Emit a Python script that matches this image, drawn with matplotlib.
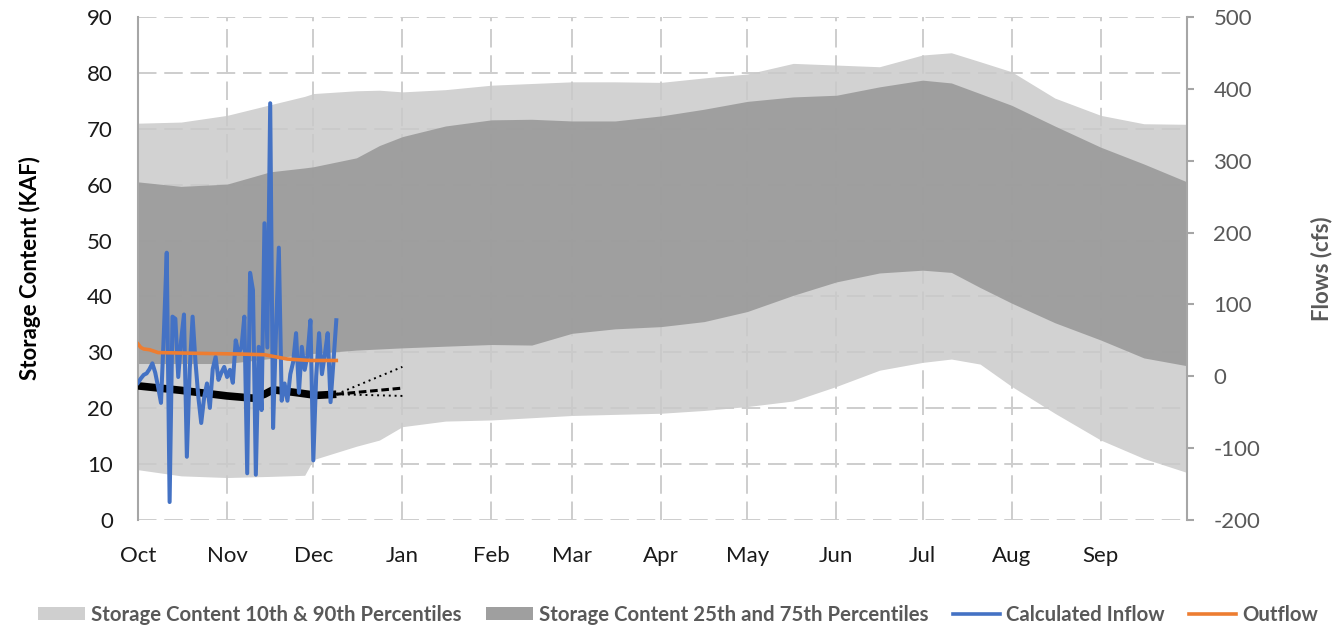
import matplotlib
matplotlib.use("Agg")
import matplotlib.pyplot as plt
import numpy as np
from matplotlib.lines import Line2D
from matplotlib.patches import Patch

plt.rcParams['font.family'] = ['Lato', 'DejaVu Sans']
plt.rcParams['axes.unicode_minus'] = False

# water-year day index, 0 = Oct 1
month_days = [0, 31, 61, 92, 123, 151, 182, 212, 243, 273, 304, 335]
month_labels = ['Oct', 'Nov', 'Dec', 'Jan', 'Feb', 'Mar', 'Apr', 'May', 'Jun', 'Jul', 'Aug', 'Sep']

# storage percentile bands (KAF)
band_days = [0, 15, 31, 46, 58, 61, 76, 84, 92, 107, 123, 137, 151, 166, 182, 197, 212,
             228, 243, 258, 273, 283, 293, 304, 319, 335, 350, 365]
p90 = [71.0, 71.2, 72.4, 74.3, 75.8, 76.3, 76.8, 76.9, 76.6, 77.0, 77.8, 78.1, 78.4, 78.4,
       78.3, 79.1, 79.8, 81.7, 81.4, 81.1, 83.2, 83.6, 82.0, 80.2, 75.5, 72.4, 70.9, 70.8]
p75 = [60.5, 59.7, 60.1, 62.3, 63.0, 63.2, 64.8, 67.0, 68.6, 70.5, 71.6, 71.7, 71.4, 71.4,
       72.3, 73.5, 74.9, 75.7, 76.0, 77.5, 78.7, 78.2, 76.3, 74.2, 70.5, 66.7, 63.7, 60.5]
p25 = [28.0, 28.0, 28.0, 28.9, 29.6, 29.8, 30.4, 30.6, 30.8, 31.1, 31.4, 31.3, 33.4, 34.2,
       34.6, 35.5, 37.3, 40.2, 42.6, 44.2, 44.7, 44.3, 41.6, 38.8, 35.3, 32.2, 29.0, 27.6]
p10 = [9.0, 7.9, 7.6, 7.8, 8.0, 10.8, 13.2, 14.3, 16.7, 17.7, 17.9, 18.3, 18.7, 18.9,
       19.1, 19.6, 20.3, 21.3, 23.9, 26.8, 28.2, 28.8, 27.9, 23.9, 19.1, 14.3, 11.0, 8.5]

# daily calculated inflow (cfs) from Oct 1
inflow = [-9, -3, 2, 4, 10, 18, 5, -15, -37, 60,
          172, -175, 83, 80, -1, 50, 86, -112, 10, 83,
          20, -29, -65, -30, -10, -44, 10, 27, -5, 5,
          13, -1, 9, -9, 50, 32, 40, 83, -135, 144,
          120, -137, 41, -47, 213, 40, 380, -72, 60, 179,
          -34, -10, -34, 3, 20, 60, -23, 41, 9, 30,
          78, -117, 0, 60, 3, 30, 60, -36, 20, 78]

outflow_days = [0, 1, 2, 4, 7, 20, 35, 44, 48, 52, 60, 69]
outflow = [45, 40, 38, 37, 33, 32, 31, 30, 27, 24, 22, 22]

storage_days = [0, 15, 31, 40, 44, 47, 55, 62, 69]
storage = [24.0, 23.2, 22.2, 21.8, 22.5, 23.3, 22.8, 22.3, 22.5]

proj_days = [69, 92]
proj_mid = [22.5, 23.6]
proj_hi = [22.5, 27.4]
proj_lo = [22.5, 22.2]

light = '#cacaca'
dark = '#9a9a9a'
grid_col = '#cdcdcd'
spine_col = '#a6a6a6'
txt_gray = '#595959'

fig = plt.figure(figsize=(13.37, 6.29), dpi=100)
ax = fig.add_axes([138 / 1337, 1 - 520 / 629, (1187 - 138) / 1337, (520 - 17) / 629])
ax2 = ax.twinx()

ax.fill_between(band_days, p10, p90, color=light, alpha=0.85, linewidth=0, zorder=1)
ax.fill_between(band_days, p25, p75, color=dark, alpha=0.9, linewidth=0, zorder=2)

ax.plot(storage_days, storage, color='black', linewidth=5.5, solid_capstyle='butt', zorder=3)
ax.plot(proj_days, proj_mid, color='black', linewidth=2.2, linestyle=(0, (2.5, 1.2)), zorder=3)
ax.plot(proj_days, proj_hi, color='black', linewidth=1.4, linestyle=(0, (1, 2)), zorder=3)
ax.plot(proj_days, proj_lo, color='black', linewidth=1.4, linestyle=(0, (1, 2)), zorder=3)

ax2.plot(np.arange(len(inflow)), inflow, color='#4472C4', linewidth=2.9,
         solid_joinstyle='round', zorder=3)
ax2.plot(outflow_days, outflow, color='#ED7D31', linewidth=2.6, zorder=4)

ax.set_xlim(0, 365)
ax.set_ylim(0, 90)
ax2.set_ylim(-200, 500)
ax.set_yticks(np.arange(0, 91, 10))
ax2.set_yticks(np.arange(-200, 501, 100))
ax.set_xticks(month_days)
ax.set_xticklabels(month_labels)

ax.set_axisbelow(True)
ax.grid(True, color=grid_col, linewidth=1.4, linestyle=(0, (9.5, 4)), zorder=0)

for a in (ax, ax2):
    for s in ('top', 'bottom'):
        a.spines[s].set_visible(False)
ax.spines['left'].set_color(spine_col)
ax.spines['left'].set_linewidth(1.5)
ax.spines['right'].set_visible(False)
ax2.spines['left'].set_visible(False)
ax2.spines['right'].set_color(spine_col)
ax2.spines['right'].set_linewidth(1.5)

ax.tick_params(axis='y', length=0, pad=18, labelsize=16, labelcolor='#1a1a1a')
ax.tick_params(axis='x', length=0, pad=19, labelsize=16, labelcolor='#1a1a1a')
ax2.tick_params(axis='y', length=5, width=1.5, color=spine_col, pad=14,
                labelsize=16, labelcolor=txt_gray)

ax.set_ylabel('Storage Content (KAF)', fontsize=16, fontweight='bold', color='black', labelpad=33)
ax2.set_ylabel('Flows (cfs)', fontsize=16, fontweight='bold', color=txt_gray, labelpad=36)

handles = [
    Patch(facecolor='#cfcfcf', edgecolor='none'),
    Patch(facecolor='#9f9f9f', edgecolor='none'),
    Line2D([0], [0], color='#4472C4', linewidth=2.6),
    Line2D([0], [0], color='#ED7D31', linewidth=2.6),
]
labels = ['Storage Content 10th & 90th Percentiles', 'Storage Content 25th and 75th Percentiles',
          'Calculated Inflow', 'Outflow']
leg = fig.legend(handles, labels, loc='center', bbox_to_anchor=(0.507, 1 - 615 / 629), ncol=4,
                 frameon=False, fontsize=14.7, handlelength=2.3, handleheight=0.6,
                 handletextpad=0.3, columnspacing=1.2)
for t in leg.get_texts():
    t.set_color(txt_gray)
    t.set_fontweight('bold')

fig.savefig('out.png', dpi=100)
